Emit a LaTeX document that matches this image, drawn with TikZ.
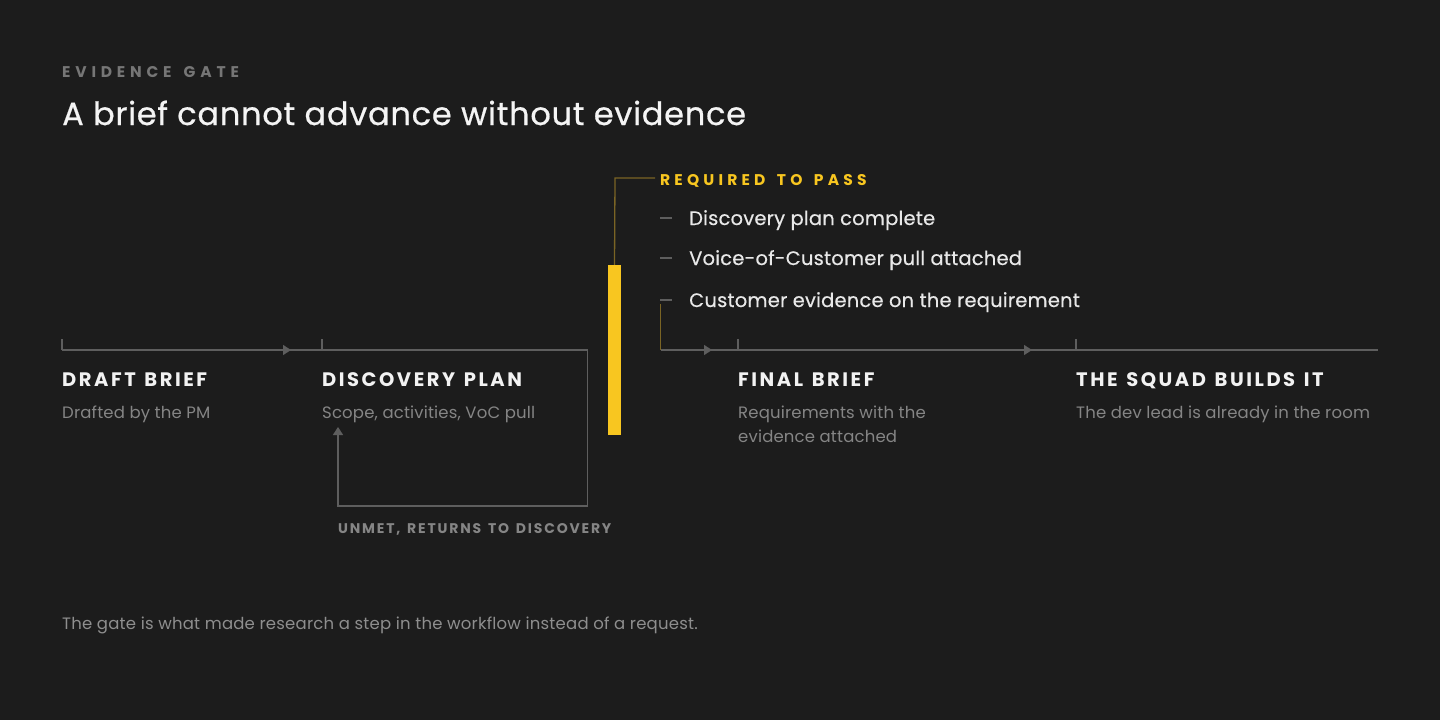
\documentclass[tikz,border=0pt]{standalone}
\usepackage{fontspec}
\setmainfont{Poppins}
\usetikzlibrary{arrows.meta,decorations.markings}
\definecolor{bg}{HTML}{1C1C1C}
\definecolor{titlec}{HTML}{F4F4F4}
\definecolor{headc}{HTML}{F2F2F2}
\definecolor{descc}{HTML}{858585}
\definecolor{kickc}{HTML}{767676}
\definecolor{linec}{HTML}{5E5E5E}
\definecolor{gold}{HTML}{F8C620}
\definecolor{darkgold}{HTML}{7A6424}
\definecolor{itemc}{HTML}{E8E8E8}
\definecolor{footc}{HTML}{8E8E8E}
\newcommand{\wsA}{\hspace{4pt} }
\newcommand{\wsB}{\hspace{2pt} }
\begin{document}
\begin{tikzpicture}[x=1pt,y=-1pt,
  txt/.style={inner sep=0pt, anchor=base west},
  kicker/.style={txt, text=kickc, font=\fontsize{15.5}{18}\selectfont\bfseries\addfontfeature{LetterSpace=31}},
  ttl/.style={txt, text=titlec, font=\fontsize{32}{36}\selectfont\addfontfeature{LetterSpace=2.4,FakeBold=0.6}},
  head/.style={txt, text=headc, font=\fontsize{19.5}{22}\selectfont\bfseries\addfontfeature{LetterSpace=13}},
  desc/.style={txt, text=descc, align=left, font=\fontsize{16.5}{24}\selectfont\addfontfeature{LetterSpace=1}},
  req/.style={txt, text=gold, font=\fontsize{15.5}{18}\selectfont\bfseries\addfontfeature{LetterSpace=27}},
  item/.style={txt, text=itemc, font=\fontsize{19.5}{22}\selectfont\addfontfeature{LetterSpace=1,FakeBold=0.4}},
  unmet/.style={txt, text=descc, font=\fontsize{14}{16}\selectfont\bfseries\addfontfeature{LetterSpace=13}},
  foot/.style={txt, text=footc, font=\fontsize{16.5}{20}\selectfont\addfontfeature{LetterSpace=1.3}},
  conn/.style={draw=linec, line width=1.3pt},
  tick/.style={draw=linec, line width=1.3pt},
  goldline/.style={draw=darkgold, line width=1.3pt},
  dashline/.style={draw=linec, line width=1.5pt},
  tip/.style={-{Triangle[length=8pt,width=10pt]}},
  midarrow/.style={postaction={decorate}, decoration={markings, mark=at position #1 with {\arrow[linec]{Triangle[length=8pt,width=10pt]}}}}
]
\useasboundingbox[fill=bg] (0,0) rectangle (1440,720);

% header
\node[kicker] (kick) at (62,77) {EVIDENCE\wsA GATE};
\node[ttl] (title) at (62,125) {A brief cannot advance without evidence};

% stage anchors
\coordinate (s1) at (62,350);
\coordinate (s2) at (322,350);
\coordinate (s3) at (738,350);
\coordinate (s4) at (1076,350);
\coordinate (s1t) at (62,339);
\coordinate (s2t) at (322,339);
\coordinate (s3t) at (738,339);
\coordinate (s4t) at (1076,339);
\coordinate (lineend) at (1378,350);

% stage labels
\node[head] (h1) at (62,386) {DRAFT\wsB BRIEF};
\node[desc] (d1) at (62,418) {Drafted by the PM};
\node[head] (h2) at (322,386) {DISCOVERY\wsB PLAN};
\node[desc] (d2) at (322,418) {Scope, activities, VoC pull};
\node[head] (h3) at (738,386) {FINAL\wsB BRIEF};
\node[desc] (d3) at (738,442) {Requirements with the\\evidence attached};
\node[head] (h4) at (1076,386) {THE\wsB SQUAD\wsB BUILDS\wsB IT};
\node[desc] (d4) at (1076,418) {The dev lead is already in the room};

% ticks
\draw[tick] (s1t) -- (s1);
\draw[tick] (s2t) -- (s2);
\draw[tick] (s3t) -- (s3);
\draw[tick] (s4t) -- (s4);

% gate bar
\node[fill=gold, inner sep=0pt, minimum width=13pt, minimum height=169.5pt] (gate) at (614.5,349.75) {};
\coordinate (g1) at (615,178);
\coordinate (g2) at (655,178);
\draw[goldline] (gate.north) -- (g1) -- (g2);
\node[req] (reqlbl) at (660,185.5) {REQUIRED\wsA TO\wsA PASS};

% requirement items
\node[item] (i1) at (689,225) {Discovery plan complete};
\node[item] (i2) at (689,265) {Voice-of-Customer pull attached};
\node[item] (i3) at (689,307) {Customer evidence on the requirement};
\coordinate (b1a) at (660,218); \coordinate (b1b) at (672,218);
\coordinate (b2a) at (660,258); \coordinate (b2b) at (672,258);
\coordinate (b3a) at (660,300); \coordinate (b3b) at (672,300);
\draw[dashline] (b1a) -- (b1b);
\draw[dashline] (b2a) -- (b2b);
\draw[dashline] (b3a) -- (b3b);

% gate output
\coordinate (go1) at (660.5,304);
\coordinate (go2) at (660.5,350);
\draw[goldline] (go1) -- (go2);

% main flow
\draw[conn, midarrow=229pt] (s1) -- (s2);
\draw[conn, midarrow=51.5pt] (go2) -- (s3);
\draw[conn, midarrow=294pt] (s3) -- (s4);
\draw[conn] (s4) -- (lineend);

% loop back
\coordinate (l1) at (587.5,350);
\coordinate (l2) at (587.5,506);
\coordinate (l3) at (338,506);
\coordinate (l4) at (338,427);
\draw[conn] (s2) -- (l1);
\draw[conn, tip, linec] (l1) -- (l2) -- (l3) -- (l4);
\node[unmet] (unmet) at (338,533) {UNMET,\wsB RETURNS\wsB TO\wsB DISCOVERY};

% footer
\node[foot] (foot) at (62,629) {The gate is what made research a step in the workflow instead of a request.};
\end{tikzpicture}
\end{document}
